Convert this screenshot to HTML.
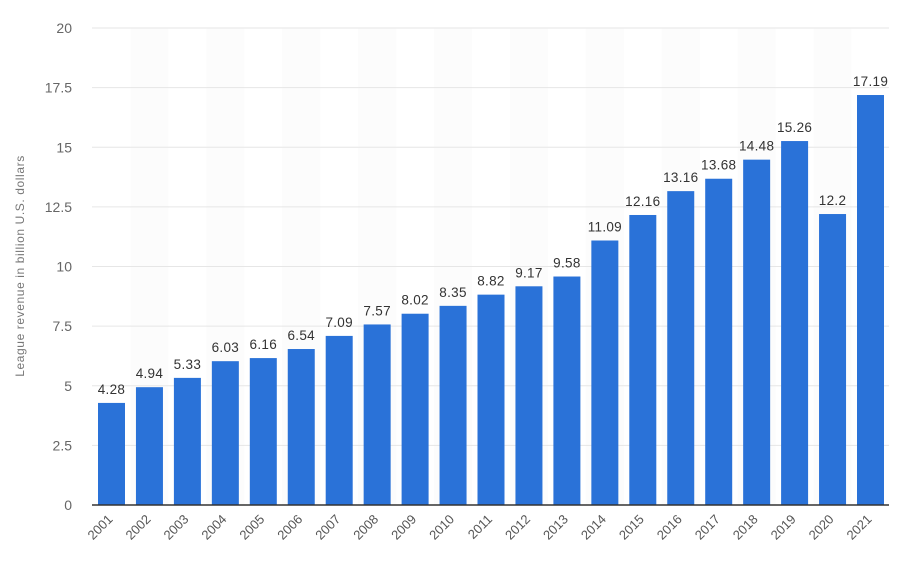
<!DOCTYPE html>
<html><head><meta charset="utf-8"><style>
html,body{margin:0;padding:0;background:#fff;}
svg{display:block;font-family:"Liberation Sans",sans-serif;}
</style></head><body>
<svg width="900" height="572" viewBox="0 0 900 572" xmlns="http://www.w3.org/2000/svg">
<g id="stripes"></g>
<g id="grid"></g>
<g id="bars"></g>
<line x1="92" y1="505" x2="889" y2="505" stroke="#333" stroke-width="1.5"/>
<text transform="translate(24,266) rotate(-90)" text-anchor="middle" font-size="12" letter-spacing="0.6" fill="#777">League revenue in billion U.S. dollars</text>
<script>
var ns="http://www.w3.org/2000/svg";
function el(p,t,a,txt){var e=document.createElementNS(ns,t);for(var k in a)e.setAttribute(k,a[k]);if(txt!==undefined)e.textContent=txt;document.getElementById(p).appendChild(e);}
var vals=[4.28,4.94,5.33,6.03,6.16,6.54,7.09,7.57,8.02,8.35,8.82,9.17,9.58,11.09,12.16,13.16,13.68,14.48,15.26,12.2,17.19];
var y0=505,u=23.85;
for(var i=0;i<21;i++){var c=111.5+i*37.95;if(i%2==1)el("stripes","rect",{x:c-19,y:28,width:38,height:477,fill:"#fcfcfc"});}
for(var t=0;t<=8;t++){var v=t*2.5,y=y0-v*u;
 if(t>0)el("grid","line",{x1:92,y1:y,x2:889,y2:y,stroke:"#e6e6e6","stroke-width":1});
 el("grid","text",{x:72,y:y+5,"text-anchor":"end","font-size":14,fill:"#666"},String(v));}
for(var i=0;i<21;i++){var x=98+i*37.95,h=vals[i]*u,c=x+13.5;
 el("bars","rect",{x:x,y:y0-h,width:27,height:h,fill:"#2a72d8"});
 el("bars","text",{x:c,y:y0-h-9,"text-anchor":"middle","font-size":13.5,"letter-spacing":"0.3",fill:"#333"},String(vals[i]));
 el("bars","text",{transform:"translate("+(c+2)+",520) rotate(-45)","text-anchor":"end","font-size":13,fill:"#555"},String(2001+i));}
</script>
</svg>
</body></html>
